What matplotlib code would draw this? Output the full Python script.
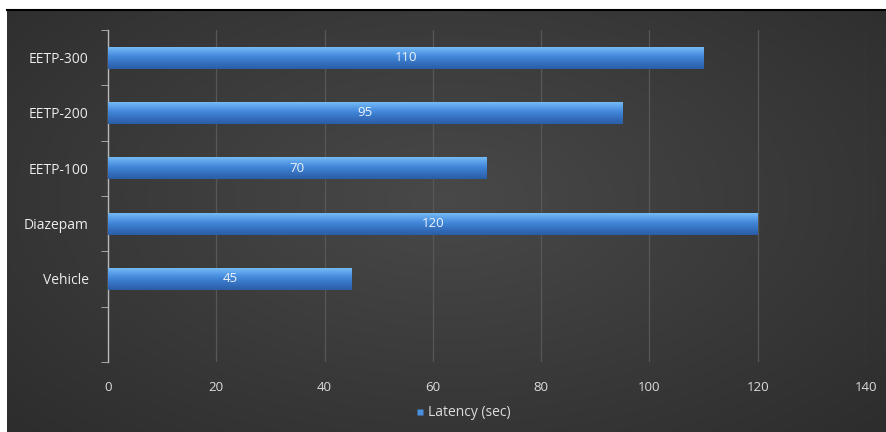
import numpy as np
import matplotlib
matplotlib.use("Agg")
import matplotlib.pyplot as plt
from matplotlib.lines import Line2D
from matplotlib.colors import LinearSegmentedColormap

categories = ["Vehicle", "Diazepam", "EETP-100", "EETP-200", "EETP-300"]
latency = [45, 120, 70, 95, 110]
series_name = "Latency (sec)"
xticks = [0, 20, 40, 60, 80, 100, 120, 140]

plt.rcParams['font.family'] = ['Open Sans', 'DejaVu Sans']

W, H = 886, 432
fig = plt.figure(figsize=(W / 100, H / 100), dpi=100, facecolor='white')

# background panel with radial-ish gradient
bg = fig.add_axes([7 / W, 0, 1 - 7 / W, 1 - 9 / H])
bg.set_axis_off()
yy, xx = np.mgrid[0:1:200j, 0:1:400j]
r = np.sqrt(((xx - 0.5) / 0.7) ** 2 + ((yy - 0.45) / 0.8) ** 2)
g = np.clip(0.285 - 0.11 * r, 0.15, 0.3)
img = np.dstack([g, g, g])
bg.imshow(img, aspect='auto', extent=[0, 1, 0, 1], interpolation='bilinear')
bg.set_xlim(0, 1)
bg.set_ylim(0, 1)
fig.add_artist(Line2D([7 / W, 1], [1 - 9.5 / H, 1 - 9.5 / H], color='black', lw=1.5,
                      transform=fig.transFigure))

ax = fig.add_axes([108 / W, 1 - 362 / H, (866 - 108) / W, (362 - 30) / H])
ax.set_facecolor('none')
ypos = np.arange(len(categories))
bars = ax.barh(ypos, latency, height=0.4, color='#3a7fd0', edgecolor='none', zorder=3)

# gradient fill for each bar (light at top, darker at bottom)
grad = np.linspace(0, 1, 64).reshape(-1, 1)
cmap = LinearSegmentedColormap.from_list('barg', ['#7cc0f6', '#5aa0ea', '#3f84d6', '#346fbe', '#2a5da6'])
for val, b in zip(latency, bars):
    x0, y0 = b.get_x(), b.get_y()
    w, h = b.get_width(), b.get_height()
    im = ax.imshow(grad, cmap=cmap, aspect='auto', extent=[x0, x0 + w, y0, y0 + h],
                   zorder=4, interpolation='bilinear')
    im.set_clip_path(b)
    ax.text(x0 + w / 2, y0 + h / 2, f"{val}", ha='center', va='center',
            color='#eef3fa', fontsize=9.5, zorder=6)

ax.set_xlim(0, 140)
ax.set_ylim(-1.5, len(categories) - 0.5)
ax.set_xticks(xticks)
ax.set_xticklabels([str(t) for t in xticks])
ax.set_yticks(ypos)
ax.set_yticklabels(categories)
ax.set_yticks(np.arange(-1.5, len(categories), 1.0), minor=True)

ax.grid(axis='x', color='#575757', lw=0.9, zorder=1)
for s in ['top', 'right', 'bottom']:
    ax.spines[s].set_visible(False)
ax.spines['left'].set_color('#b8b8b8')
ax.spines['left'].set_linewidth(1.0)
ax.tick_params(axis='y', which='major', length=0, pad=14, labelcolor='#ececec', labelsize=10)
ax.tick_params(axis='y', which='minor', length=5, color='#b8b8b8', direction='out')
ax.tick_params(axis='x', length=0, pad=14, labelcolor='#dcdcdc', labelsize=9.5)

# legend
handle = Line2D([], [], marker='s', color='none', markerfacecolor='#4a90e0',
                markeredgecolor='none', markersize=5, label=series_name)
leg = fig.legend(handles=[handle], loc='center', bbox_to_anchor=(462 / W, 1 - 413 / H),
                 frameon=False, handletextpad=0.1, handlelength=1.0,
                 prop={'size': 10})
for t in leg.get_texts():
    t.set_color('#dcdcdc')

fig.savefig('out.png', dpi=100, facecolor='white')
